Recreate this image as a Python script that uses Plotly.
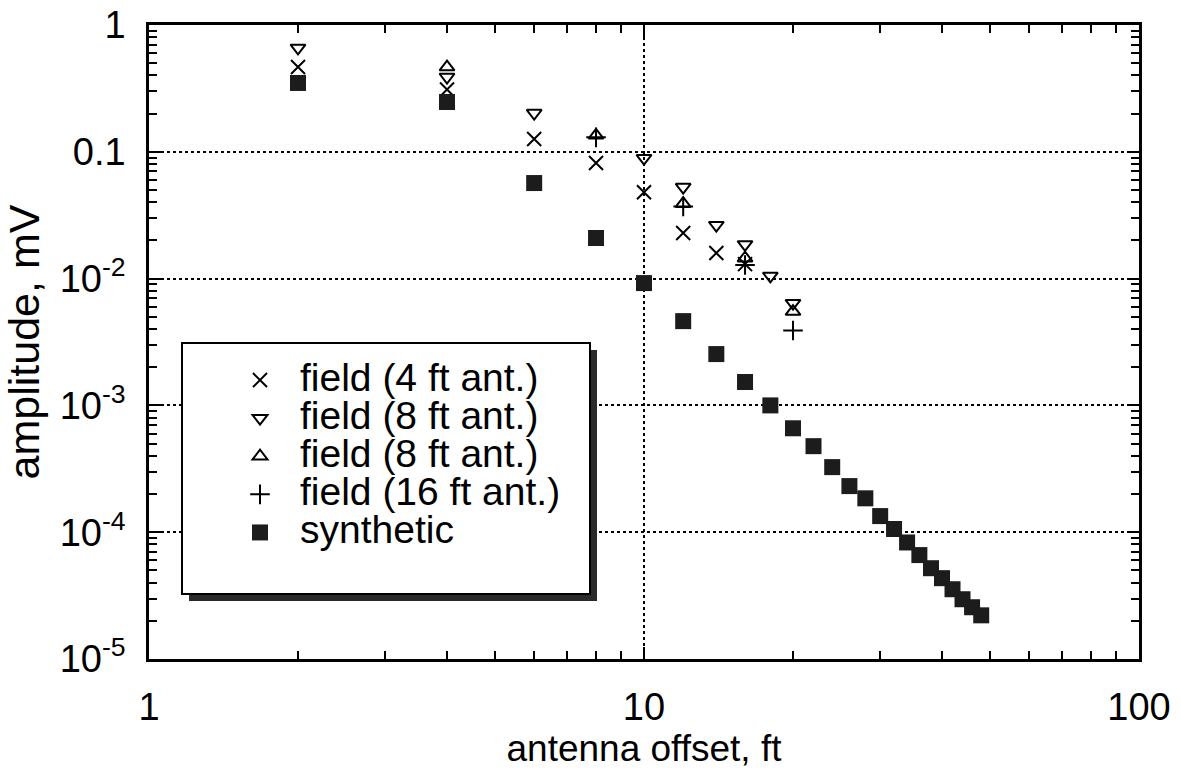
import plotly.graph_objects as go

# Antenna offset (ft) and amplitude (mV) for each series
offset_syn = [2, 4, 6, 8, 10, 12, 14, 16, 18, 20, 22, 24, 26, 28, 30, 32,
              34, 36, 38, 40, 42, 44, 46, 48]
amp_syn = [0.349, 0.247, 0.0567, 0.0209, 0.00922, 0.00462, 0.00254, 0.00153,
           1.0e-3, 6.6e-4, 4.77e-4, 3.26e-4, 2.31e-4, 1.85e-4, 1.34e-4, 1.06e-4,
           8.3e-5, 6.6e-5, 5.2e-5, 4.34e-5, 3.55e-5, 2.96e-5, 2.56e-5, 2.21e-5]

offset_4ft = [2, 4, 6, 8, 10, 12, 14, 16]
amp_4ft = [0.466, 0.31, 0.126, 0.0815, 0.048, 0.0229, 0.0159, 0.013]

offset_8ft_a = [2, 4, 6, 10, 12, 14, 16, 18, 20]
amp_8ft_a = [0.659, 0.389, 0.202, 0.089, 0.0527, 0.0264, 0.0186, 0.0105, 0.0064]

offset_8ft_b = [4, 8, 12, 16, 20]
amp_8ft_b = [0.466, 0.135, 0.039, 0.0145, 0.0055]

offset_16ft = [8, 12, 16, 20]
amp_16ft = [0.13, 0.037, 0.0128, 0.0039]

x_tickvals = [1, 10, 100]
x_ticktext = ["1", "10", "100"]
y_tickvals = [1e-5, 1e-4, 1e-3, 1e-2, 0.1, 1]
y_ticktext = ["10<sup>-5</sup>", "10<sup>-4</sup>", "10<sup>-3</sup>",
              "10<sup>-2</sup>", "0.1", "1"]

FONT = "Liberation Sans, Arial, Helvetica, sans-serif"
W, H = 1181, 777
ML, MR, MT, MB = 149, 42, 25, 118


def px_x(p):
    return (p - ML) / (W - ML - MR)


def px_y(p):
    return (H - MB - p) / (H - MT - MB)


def label(t):
    return '<span style="font-size:39px">' + t + '</span>'


fig = go.Figure()

fig.add_trace(go.Scatter(
    x=offset_4ft, y=amp_4ft, mode="markers", name=label("field (4 ft ant.)"),
    marker=dict(symbol="x-thin-open", size=14, color="black",
                line=dict(width=2, color="black"))))
fig.add_trace(go.Scatter(
    x=offset_8ft_a, y=amp_8ft_a, mode="markers", name=label("field (8 ft ant.)"),
    marker=dict(symbol="triangle-down-open", size=13, color="black",
                line=dict(width=2, color="black"))))
fig.add_trace(go.Scatter(
    x=offset_8ft_b, y=amp_8ft_b, mode="markers", name=label("field (8 ft ant.)"),
    marker=dict(symbol="triangle-up-open", size=13, color="black",
                line=dict(width=2, color="black"))))
fig.add_trace(go.Scatter(
    x=offset_16ft, y=amp_16ft, mode="markers", name=label("field (16 ft ant.)"),
    marker=dict(symbol="cross-thin-open", size=14, color="black",
                line=dict(width=2, color="black"))))
fig.add_trace(go.Scatter(
    x=offset_syn, y=amp_syn, mode="markers", name=label("synthetic"),
    marker=dict(symbol="square", size=16, color="#1c1c1c",
                line=dict(width=0))))

# legend frame with a drop shadow
shapes = [
    dict(type="rect", xref="paper", yref="paper", layer="above",
         x0=px_x(189), x1=px_x(597), y0=px_y(601), y1=px_y(350),
         fillcolor="#2a2a2a", line=dict(width=0)),
    dict(type="rect", xref="paper", yref="paper", layer="above",
         x0=px_x(182), x1=px_x(590), y0=px_y(594), y1=px_y(343),
         fillcolor="white", line=dict(width=2, color="black")),
]

axis_common = dict(
    type="log", showline=True, linewidth=2.5, linecolor="black",
    mirror="ticks", ticks="inside", ticklen=12, tickwidth=2,
    tickcolor="black", showgrid=True, gridcolor="black", gridwidth=1.5,
    griddash="dot", zeroline=False, automargin=False,
    tickfont=dict(family=FONT, size=38, color="black"),
    minor=dict(ticks="inside", ticklen=8, tickwidth=1.5, tickcolor="black",
               dtick="D1", showgrid=False),
)

fig.update_layout(
    width=W, height=H, autosize=False,
    margin=dict(l=ML, r=MR, t=MT, b=MB),
    paper_bgcolor="white", plot_bgcolor="white",
    font=dict(family=FONT, color="black"),
    xaxis=dict(axis_common, range=[0, 2], tickmode="array",
               tickvals=x_tickvals, ticktext=x_ticktext,
               ticklabelstandoff=13,
               title=dict(text="antenna offset, ft", standoff=0,
                          font=dict(family=FONT, size=37))),
    yaxis=dict(axis_common, range=[-5, 0], tickmode="array",
               tickvals=y_tickvals, ticktext=y_ticktext,
               ticklabelstandoff=13,
               title=dict(text="amplitude, mV", standoff=14,
                          font=dict(family=FONT, size=43))),
    shapes=shapes,
    showlegend=True,
    legend=dict(x=px_x(220), y=px_y(356), xanchor="left", yanchor="top",
                bgcolor="rgba(0,0,0,0)", borderwidth=0, itemwidth=70,
                font=dict(family=FONT, size=27, color="black"),
                tracegroupgap=0),
)

fig.write_html("out.html")
